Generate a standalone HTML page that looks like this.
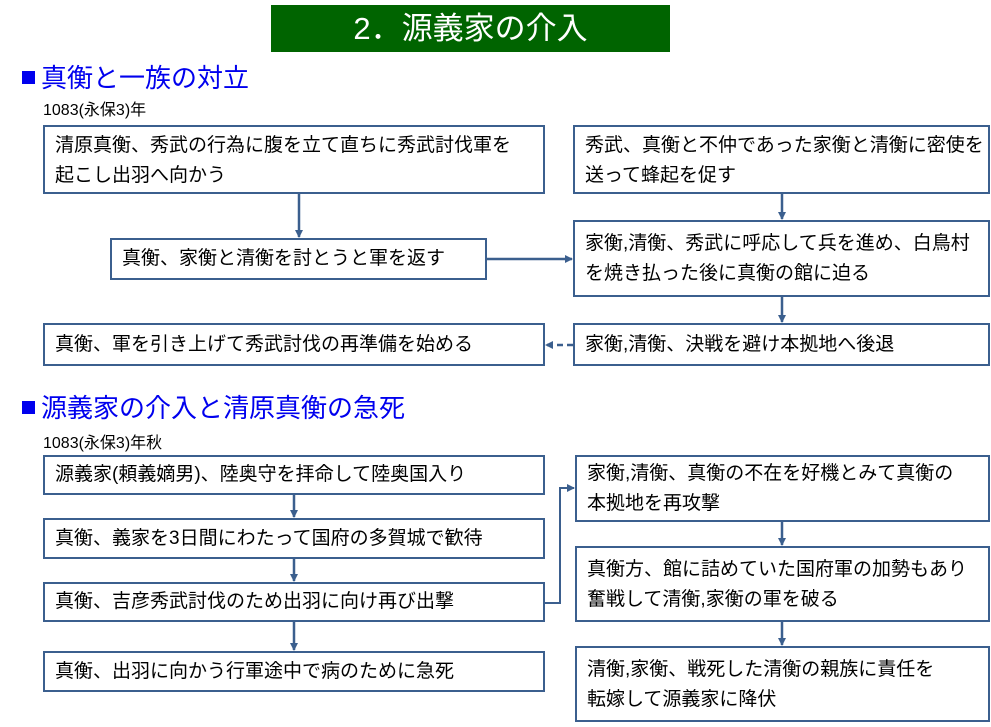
<!DOCTYPE html>
<html><head><meta charset="utf-8"><style>
body{margin:0;width:991px;height:727px;background:#fff;position:relative;overflow:hidden;font-family:"Liberation Sans","Noto Sans CJK JP",sans-serif;}
.b{position:absolute;box-sizing:border-box;border:2px solid #3b5f8e;background:#fff;font-size:19px;line-height:30px;padding:4px 0 0 10px;color:#000;white-space:nowrap;}
.c{display:flex;align-items:center;padding-top:0;}
.h{position:absolute;color:#0000ee;font-size:26px;left:22px;}
.h span{display:inline-block;width:13px;height:13px;background:#0000ee;margin-right:6px;vertical-align:3px;}
.y{position:absolute;left:43px;font-size:16px;}
</style></head><body>
<div style="position:absolute;left:271px;top:5px;width:399px;height:47px;background:#006400;color:#fff;font-size:31px;line-height:47px;text-align:center;">2．源義家の介入</div>
<div class="h" style="top:58px;"><span></span>真衡と一族の対立</div>
<div class="y" style="top:96px;">1083(永保3)年</div>
<div class="b" style="left:43px;top:125px;width:502px;height:69px;">清原真衡、秀武の行為に腹を立て直ちに秀武討伐軍を<br>起こし出羽へ向かう</div>
<div class="b" style="left:573px;top:125px;width:417px;height:69px;">秀武、真衡と不仲であった家衡と清衡に密使を<br>送って蜂起を促す</div>
<div class="b c" style="left:110px;top:238px;width:377px;height:42px;">真衡、家衡と清衡を討とうと軍を返す</div>
<div class="b" style="left:573px;top:220px;width:417px;height:77px;padding-top:7px;">家衡,清衡、秀武に呼応して兵を進め、白鳥村<br>を焼き払った後に真衡の館に迫る</div>
<div class="b c" style="left:43px;top:323px;width:502px;height:43px;">真衡、軍を引き上げて秀武討伐の再準備を始める</div>
<div class="b c" style="left:573px;top:323px;width:417px;height:43px;">家衡,清衡、決戦を避け本拠地へ後退</div>
<div class="h" style="top:388px;"><span></span>源義家の介入と清原真衡の急死</div>
<div class="y" style="top:429px;">1083(永保3)年秋</div>
<div class="b c" style="left:43px;top:455px;width:502px;height:40px;">源義家(頼義嫡男)、陸奥守を拝命して陸奥国入り</div>
<div class="b c" style="left:43px;top:518px;width:502px;height:41px;">真衡、義家を3日間にわたって国府の多賀城で歓待</div>
<div class="b c" style="left:43px;top:582px;width:502px;height:40px;">真衡、吉彦秀武討伐のため出羽に向け再び出撃</div>
<div class="b c" style="left:43px;top:651px;width:502px;height:41px;">真衡、出羽に向かう行軍途中で病のために急死</div>
<div class="b" style="left:575px;top:455px;width:415px;height:67px;padding-top:2px;">家衡,清衡、真衡の不在を好機とみて真衡の<br>本拠地を再攻撃</div>
<div class="b" style="left:575px;top:546px;width:415px;height:76px;padding-top:7px;">真衡方、館に詰めていた国府軍の加勢もあり<br>奮戦して清衡,家衡の軍を破る</div>
<div class="b" style="left:575px;top:646px;width:415px;height:76px;padding-top:7px;">清衡,家衡、戦死した清衡の親族に責任を<br>転嫁して源義家に降伏</div>
<svg style="position:absolute;left:0;top:0" width="991" height="727">
<defs><marker id="a" markerWidth="8" markerHeight="8" refX="7" refY="4" orient="auto" markerUnits="userSpaceOnUse"><path d="M0,0 L8,4 L0,8 z" fill="#3b5f8e"/></marker></defs>
<g stroke="#3b5f8e" stroke-width="2.5" fill="none" marker-end="url(#a)">
<line x1="299" y1="194" x2="299" y2="237"/>
<line x1="782" y1="194" x2="782" y2="219"/>
<line x1="487" y1="259" x2="572" y2="259"/>
<line x1="782" y1="297" x2="782" y2="322"/>
<line x1="573" y1="345" x2="546" y2="345" stroke-dasharray="6,4"/>
<line x1="294" y1="495" x2="294" y2="517"/>
<line x1="294" y1="559" x2="294" y2="581"/>
<line x1="294" y1="622" x2="294" y2="650"/>
<line x1="782" y1="522" x2="782" y2="545"/>
<line x1="782" y1="622" x2="782" y2="645"/>
<polyline points="545,603 560,603 560,488 574,488" stroke-width="2"/>
</g></svg>
</body></html>
